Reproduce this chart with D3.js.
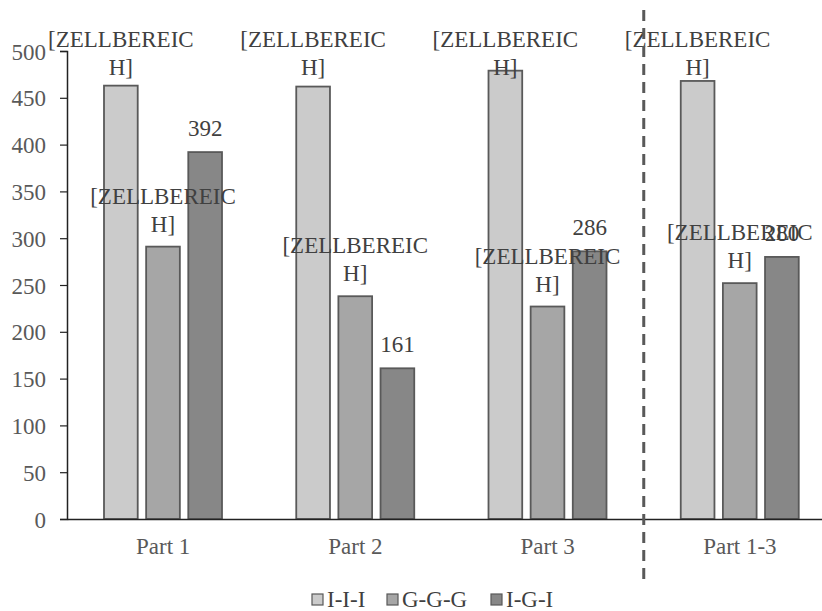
<!DOCTYPE html>
<html>
<head>
<meta charset="utf-8">
<script src="https://cdn.jsdelivr.net/npm/d3@7"></script>
<style>
  body { margin: 0; background: #fff; }
  svg text { font-family: "Liberation Serif", "Times New Roman", Tinos, "DejaVu Serif", serif !important; }
</style>
</head>
<body>
<svg id="chart"></svg>
<script>
let categories = ["Part 1", "Part 2", "Part 3", "Part 1-3"];
let seriesNames = ["I-I-I", "G-G-G", "I-G-I"];
let valuesIII = [463, 462, 479, 468];
let valuesGGG = [291, 238, 227, 252];
let valuesIGI = [392, 161, 286, 280];
// data labels as the chart shows them (first two series only show a placeholder)
let labelsIII = ["[ZELLBEREICH]", "[ZELLBEREICH]", "[ZELLBEREICH]", "[ZELLBEREICH]"];
let labelsGGG = ["[ZELLBEREICH]", "[ZELLBEREICH]", "[ZELLBEREICH]", "[ZELLBEREICH]"];
let labelsIGI = ["392", "161", "286", "280"];
let yTicks = [0, 50, 100, 150, 200, 250, 300, 350, 400, 450, 500];

let colors = ["#cbcbcb", "#a6a6a6", "#878787"];
let width = 822, height = 611;
let fontSize = 23;

let svg = d3.select("#chart").attr("width", width).attr("height", height);

let x = d3.scaleBand().domain(categories).range([67, 836]);
let xs = d3.scaleBand().domain(seriesNames).range([37, 155]).paddingInner(0.2);
let y = d3.scaleLinear().domain([0, 500]).range([519, 51]);

let rows = [];
let allVals = [valuesIII, valuesGGG, valuesIGI];
let allLbls = [labelsIII, labelsGGG, labelsIGI];
categories.forEach((c, i) => {
  seriesNames.forEach((s, j) => {
    rows.push({cat: c, series: s, idx: j, value: allVals[j][i], label: allLbls[j][i]});
  });
});

// y axis
let yAxis = svg.append("g").attr("transform", "translate(67,0)")
  .call(d3.axisLeft(y).tickValues(yTicks).tickSize(7).tickPadding(14));
yAxis.attr("font-family", null);
yAxis.select(".domain").attr("stroke", "#222").attr("stroke-width", 1.5);
yAxis.selectAll(".tick line").attr("stroke", "#222").attr("stroke-width", 1.2);
yAxis.selectAll(".tick text").attr("fill", "#595959").style("font-size", fontSize + "px")
  .attr("dy", "0.35em");

// bars
svg.selectAll("rect.bar").data(rows).enter().append("rect")
  .attr("class", "bar")
  .attr("x", d => x(d.cat) + xs(d.series))
  .attr("width", xs.bandwidth())
  .attr("y", d => y(d.value))
  .attr("height", d => y(0) - y(d.value))
  .attr("fill", d => colors[d.idx])
  .attr("stroke", "#595959")
  .attr("stroke-width", 1.8);

// x axis
let xAxis = svg.append("g").attr("transform", `translate(0,${y(0)})`)
  .call(d3.axisBottom(x).tickSize(0).tickPadding(19));
xAxis.attr("font-family", null);
xAxis.select(".domain").attr("stroke", "#222").attr("stroke-width", 1.5);
xAxis.selectAll(".tick text").attr("fill", "#595959").style("font-size", fontSize + "px")
  .attr("dy", "0.71em");

// data labels, clamped to the top of the plot like the original
let lbl = svg.selectAll("g.lbl").data(rows).enter().append("g").attr("class", "lbl");
lbl.each(function(d) {
  let g = d3.select(this);
  let cx = x(d.cat) + xs(d.series) + xs.bandwidth() / 2;
  let top = y(d.value);
  if (d.label.length > 6) {
    let first = d.label.slice(0, -2), second = d.label.slice(-2);
    let y1 = Math.max(top - 43, 47);
    g.append("text").attr("x", cx).attr("y", y1).text(first);
    g.append("text").attr("x", cx).attr("y", y1 + 28).text(second);
  } else {
    g.append("text").attr("x", cx).attr("y", top - 16).text(d.label);
  }
});
lbl.selectAll("text").attr("text-anchor", "middle").attr("fill", "#404040")
  .style("font-size", fontSize + "px");

// dashed separator between Part 3 and Part 1-3
svg.append("line")
  .attr("x1", x("Part 1-3")).attr("x2", x("Part 1-3"))
  .attr("y1", 10).attr("y2", 583)
  .attr("stroke", "#595959").attr("stroke-width", 3)
  .attr("stroke-dasharray", "11,7");

// legend
let legendX = [312, 387, 491];
let legend = svg.selectAll("g.legend").data(seriesNames).enter().append("g")
  .attr("class", "legend")
  .attr("transform", (d, i) => `translate(${legendX[i]},0)`);
legend.append("rect").attr("x", 0).attr("y", 594).attr("width", 11).attr("height", 11)
  .attr("fill", (d, i) => colors[i]).attr("stroke", "#595959").attr("stroke-width", 1.2);
legend.append("text").attr("x", 15).attr("y", 607).text(d => d)
  .attr("fill", "#404040").style("font-size", fontSize + "px");
</script>
</body>
</html>
